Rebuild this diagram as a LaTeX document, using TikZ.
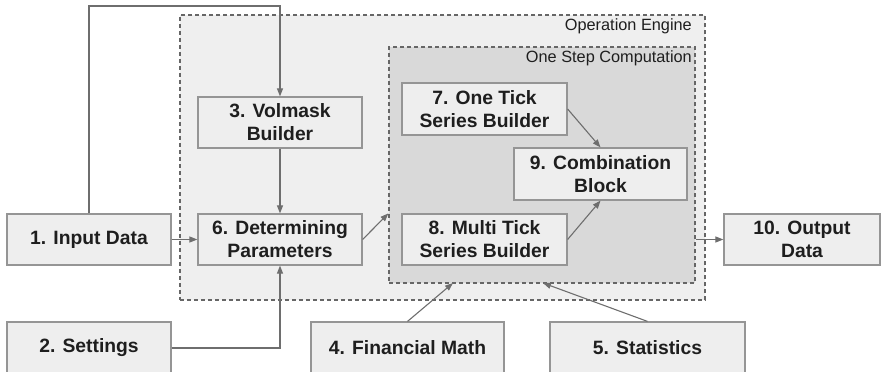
\documentclass[tikz,border=0pt]{standalone}
\usepackage{fontspec}
\setmainfont{Liberation Sans}
\usetikzlibrary{arrows.meta}
\definecolor{boxfill}{HTML}{EEEEEE}
\definecolor{boxline}{HTML}{959595}
\definecolor{wire}{HTML}{6E6E6E}
\definecolor{outerfill}{HTML}{EFEFEF}
\definecolor{innerfill}{HTML}{D9D9D9}
\definecolor{frameline}{HTML}{666666}
\definecolor{ink}{HTML}{1E1E1E}
\tikzset{
  blk/.style={draw=boxline, line width=1.2pt, fill=boxfill, inner sep=0pt,
    align=center, text=ink, font=\fontsize{19.3}{23}\selectfont\bfseries},
  frame/.style={draw=frameline, line width=1.2pt, dash pattern=on 4pt off 3pt, inner sep=0pt},
  framelabel/.style={text=ink, inner sep=0pt, font=\fontsize{16.3}{19}\selectfont},
  arr/.style={draw=wire, line width=1.1pt, -{Triangle[length=8pt,width=6pt]}}
}
\begin{document}
\begin{tikzpicture}[x=1pt,y=-1pt]
\useasboundingbox (0,0) rectangle (881,372);

% grouping frames
\node[frame, fill=outerfill, minimum width=525pt, minimum height=285pt] (eng) at (442.5,157.5) {};
\node[frame, fill=innerfill, minimum width=306pt, minimum height=236pt] (osc) at (542,165) {};
\node[framelabel, anchor=east] (englbl) at (692,26) {Operation Engine};
\node[framelabel, anchor=east] (osclbl) at (692,58) {One Step Computation};

% blocks
\node[blk, minimum width=164pt, minimum height=51pt] (b1) at (89,239.5) {1. Input Data};
\node[blk, minimum width=164pt, minimum height=52pt] (b2) at (89,348) {2. Settings};
\node[blk, minimum width=164pt, minimum height=51pt] (b3) at (280,122.5) {3. Volmask\\Builder};
\node[blk, minimum width=193pt, minimum height=52pt] (b4) at (407.5,348) {4. Financial Math};
\node[blk, minimum width=195pt, minimum height=52pt] (b5) at (647.5,348) {5. Statistics};
\node[blk, minimum width=164pt, minimum height=51pt] (b6) at (280,239.5) {6. Determining\\Parameters};
\node[blk, minimum width=165pt, minimum height=52pt] (b7) at (484.5,109) {7. One Tick\\Series Builder};
\node[blk, minimum width=165pt, minimum height=51pt] (b8) at (484.5,239.5) {8. Multi Tick\\Series Builder};
\node[blk, minimum width=173pt, minimum height=52pt] (b9) at (600.5,174) {9. Combination\\Block};
\node[blk, minimum width=156pt, minimum height=51pt] (b10) at (802,239.5) {10. Output\\Data};

% helper points
\coordinate (top) at (180,6);
\coordinate (in4) at (453,283);
\coordinate (in5) at (543,283);

% connectors
\draw[arr] (b1.north) |- (top) -| (b3.north);
\draw[arr] (b2.east) -| (b6.south);
\draw[arr] (b3.south) -- (b6.north);
\draw[arr] (b1.east) -- (b6.west);
\draw[arr] (b6.east) -- (osc.west |- b6.north);
\draw[arr] (b7.east) -- (b9.north);
\draw[arr] (b8.east) -- (b9.south);
\draw[arr] (osc.east |- b10.west) -- (b10.west);
\draw[arr] (b4.north) -- (in4);
\draw[arr] (b5.north) -- (in5);
\end{tikzpicture}
\end{document}
